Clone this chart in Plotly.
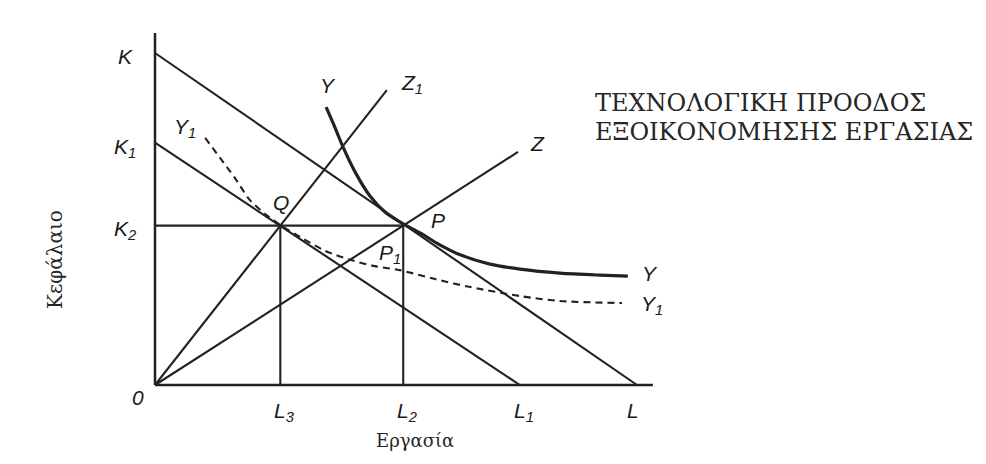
import plotly.graph_objects as go

# ---- data (economic units: labour on x, capital on y) ----
K_top, K1, K2 = 10.0, 7.3, 4.8
L_end, L1, L2, L3 = 10.0, 7.57, 5.15, 2.6
axis_K_max, axis_L_max = 10.6, 10.33
Z_end_L, Z1_end_L = 7.53, 4.81

# isoquant Y (solid)
Y_L = [3.55, 3.73, 3.90, 4.15, 4.46, 4.77, 5.15, 5.50, 5.91, 6.33, 6.95, 7.57, 8.40, 9.23, 9.81]
Y_K = [8.37, 7.77, 7.17, 6.42, 5.69, 5.21, 4.85, 4.58, 4.22, 3.92, 3.64, 3.49, 3.37, 3.31, 3.28]
# isoquant Y1 (dashed)
Y1_L = [1.04, 1.35, 1.66, 1.97, 2.34, 2.62, 3.01, 3.53, 4.05, 4.56, 5.08, 5.81, 6.54, 7.57, 8.40, 9.69]
Y1_K = [7.44, 6.84, 6.23, 5.57, 5.09, 4.80, 4.46, 4.04, 3.77, 3.58, 3.46, 3.19, 2.95, 2.68, 2.53, 2.47]

title_lines = ["ΤΕΧΝΟΛΟΓΙΚΗ ΠΡΟΟΔΟΣ", "ΕΞΟΙΚΟΝΟΜΗΣΗΣ ΕΡΓΑΣΙΑΣ"]
x_title, y_title = "Εργασία", "Κεφάλαιο"

INK = "#222222"
W, H = 986, 464
OX, OY = 147, 377      # origin position inside the figure (page adds 8px body margin)
px_x, px_y = 48.2, 33.2  # px per unit

fig = go.Figure()

def seg(xs, ys, width=2.0, dash=None):
    fig.add_trace(go.Scatter(x=xs, y=ys, mode="lines", hoverinfo="skip",
                             line=dict(color=INK, width=width, dash=dash), showlegend=False))

# axes
seg([0, 0], [0, axis_K_max], 2.5)
seg([0, axis_L_max], [0, 0], 2.5)
# isocost lines
seg([0, L_end], [K_top, 0], 2.1)
seg([0, L1], [K1, 0], 2.1)
# K2 horizontal and verticals
seg([0, L2], [K2, K2], 2.1)
seg([L3, L3], [0, K2], 2.1)
seg([L2, L2], [0, K2], 2.1)
# rays
seg([0, Z_end_L], [0, Z_end_L * K2 / L2], 2.1)
seg([0, Z1_end_L], [0, Z1_end_L * K2 / L3], 2.1)
# isoquants
fig.add_trace(go.Scatter(x=Y_L, y=Y_K, mode="lines",
                         line=dict(color=INK, width=3.2, shape="spline", smoothing=0.8),
                         hoverinfo="skip", showlegend=False))
fig.add_trace(go.Scatter(x=Y1_L, y=Y1_K, mode="lines",
                         line=dict(color=INK, width=2.1, dash="7px,5px", shape="spline", smoothing=0.8),
                         hoverinfo="skip", showlegend=False))

lab_font = dict(family="Liberation Sans, Arial, sans-serif", size=21, color="#1a1a1a")
def lab(x, y, t):
    fig.add_annotation(x=x, y=y, text="<i>" + t + "</i>", showarrow=False, font=lab_font,
                       xanchor="center", yanchor="middle")

lab(-30 / px_x, K_top - 3 / px_y, "K")
lab(-30 / px_x, K1 - 5 / px_y, "K<sub>1</sub>")
lab(-30 / px_x, K2 - 4 / px_y, "K<sub>2</sub>")
lab(-17 / px_x, -12 / px_y, "0")
lab(L3 + 4 / px_x, -27 / px_y, "L<sub>3</sub>")
lab(L2 + 4 / px_x, -27 / px_y, "L<sub>2</sub>")
lab(L1 + 4 / px_x, -27 / px_y, "L<sub>1</sub>")
lab(L_end - 4 / px_x, -25 / px_y, "L")
lab(Y_L[0] + 2 / px_x, Y_K[0] + 22 / px_y, "Y")
lab(Z1_end_L + 25 / px_x, Z1_end_L * K2 / L3 + 6 / px_y, "Z<sub>1</sub>")
lab(Z_end_L + 20 / px_x, Z_end_L * K2 / L2 + 8 / px_y, "Z")
lab(Y1_L[0] - 20 / px_x, Y1_K[0] + 10 / px_y, "Y<sub>1</sub>")
lab(L3 + 1 / px_x, K2 + 23 / px_y, "Q")
lab(L2 + 35 / px_x, K2 + 5 / px_y, "P")
lab(L2 - 13 / px_x, K2 - 28 / px_y, "P<sub>1</sub>")
lab(Y_L[-1] + 22 / px_x, Y_K[-1] + 3 / px_y, "Y")
lab(Y1_L[-1] + 30 / px_x, Y1_K[-1] - 2 / px_y, "Y<sub>1</sub>")

serif = "DejaVu Serif, Liberation Serif, serif"
def ptext(xp, yp, t, size, angle=0, xa="left"):
    fig.add_annotation(xref="paper", yref="paper", x=(xp - 8) / W, y=1 - (yp - 8) / H, text=t,
                       showarrow=False, xanchor=xa, yanchor="middle", textangle=angle,
                       font=dict(family=serif, size=size, color="#262626"))

ptext(593, 103, title_lines[0], 24)
ptext(593, 132, title_lines[1], 24)
ptext(415, 440, x_title, 18, xa="center")
ptext(55, 260, y_title, 20, angle=-90, xa="center")

fig.update_layout(width=W, height=H, margin=dict(l=0, r=0, t=0, b=0),
                  paper_bgcolor="white", plot_bgcolor="white", showlegend=False)
fig.update_xaxes(visible=False, range=[-OX / px_x, (W - OX) / px_x], fixedrange=True)
fig.update_yaxes(visible=False, range=[(OY - H) / px_y, OY / px_y], fixedrange=True)

fig.write_html("out.html")
